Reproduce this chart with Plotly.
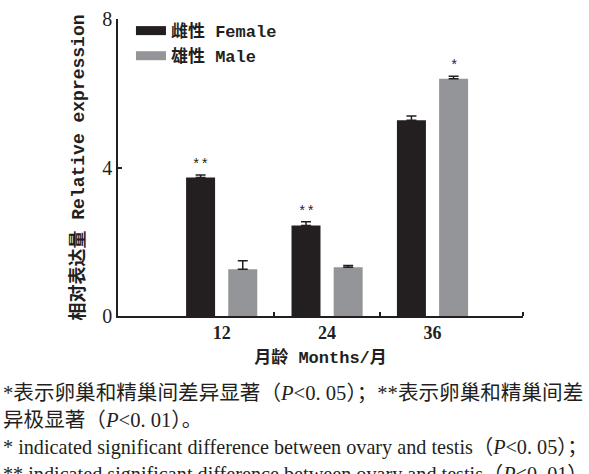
import plotly.graph_objects as go

months = [12, 24, 36]
female = [3.73, 2.44, 5.27]
female_err = [0.07, 0.10, 0.12]
male = [1.26, 1.31, 6.39]
male_err = [0.23, 0.05, 0.07]
female_sig = ["**", "**", ""]
male_sig = ["", "", "*"]
y_ticks = [0, 4, 8]

BAR_W = 3.3
F_OFF = -4.05
M_OFF = 0.75
F_COLOR = "#231f20"
M_COLOR = "#939598"

MONO = "Liberation Mono, Noto Sans CJK SC"
SERIF = "Liberation Serif, Noto Sans CJK SC"

fig = go.Figure()
fig.add_trace(go.Bar(
    x=months, y=female, width=BAR_W, offset=F_OFF, marker_color=F_COLOR,
    marker_line_width=0, showlegend=False,
    error_y=dict(type="data", array=female_err, arrayminus=[0]*3, symmetric=False,
                 color="#231f20", thickness=1.5, width=5),
))
fig.add_trace(go.Bar(
    x=months, y=male, width=BAR_W, offset=M_OFF, marker_color=M_COLOR,
    marker_line_width=0, showlegend=False,
    error_y=dict(type="data", array=male_err, arrayminus=[0]*3, symmetric=False,
                 color="#231f20", thickness=1.5, width=5),
))
# legend entries
fig.add_trace(go.Scatter(x=[None], y=[None], mode="lines", line=dict(color=F_COLOR, width=9),
                         name="<b>雌性 Female</b>"))
fig.add_trace(go.Scatter(x=[None], y=[None], mode="lines", line=dict(color=M_COLOR, width=9),
                         name="<b>雄性 Male</b>"))

for m, v, e, s in zip(months, female, female_err, female_sig):
    if s:
        fig.add_annotation(x=m + F_OFF + BAR_W / 2, y=v + e, text=s, showarrow=False,
                           yanchor="bottom", yshift=0, font=dict(family=MONO, size=14, color="#231f20"))
for m, v, e, s in zip(months, male, male_err, male_sig):
    if s:
        fig.add_annotation(x=m + M_OFF + BAR_W / 2, y=v + e, text=s, showarrow=False,
                           yanchor="bottom", yshift=0, font=dict(family=MONO, size=14, color="#231f20"))

captions = [
    "*表示卵巢和精巢间差异显著（<i>P</i><0. 05）；**表示卵巢和精巢间差",
    "异极显著（<i>P</i><0. 01）。",
    "* indicated significant difference between ovary and testis（<i>P</i><0. 05）；",
    "** indicated significant difference between ovary and testis（<i>P</i><0. 01）.",
]
cap_size = [20.6, 20.6, 20.2, 20.2]
cap_y = [393, 420, 447, 474]
for t, py, fs in zip(captions, cap_y, cap_size):
    fig.add_annotation(xref="paper", yref="paper", x=(1 - 118) / 405, y=(316 - py) / 297,
                       xanchor="left", yanchor="middle", text=t, showarrow=False,
                       font=dict(family=SERIF, size=fs, color="#231f20"))

fig.update_layout(
    width=589, height=474,
    margin=dict(l=118, r=66, t=19, b=158, autoexpand=False),
    paper_bgcolor="white", plot_bgcolor="white",
    font=dict(color="#231f20"),
    legend=dict(x=0.032, y=1.02, xanchor="left", yanchor="top", bgcolor="rgba(0,0,0,0)",
                font=dict(family=MONO, size=17, color="#231f20"), tracegroupgap=0),
    xaxis=dict(
        range=[0.2, 46.3], tickvals=months, ticktext=["<b>%d</b>" % m for m in months],
        ticks="", showgrid=False, zeroline=False, showline=True, linecolor="#231f20", linewidth=1.5,
        tickfont=dict(family=SERIF, size=18, color="#231f20"), automargin=False,
        minor=dict(tickvals=[18, 30, 46.3], ticks="inside", ticklen=4, tickwidth=1.5, tickcolor="#231f20"),
        title=dict(text="<b>月龄 Months/月</b>", font=dict(family=MONO, size=17, color="#231f20"), standoff=9),
    ),
    yaxis=dict(
        range=[0, 8], tickvals=y_ticks, ticks="inside", ticklen=4, tickwidth=1.5, tickcolor="#231f20",
        showgrid=False, zeroline=False, showline=True, linecolor="#231f20", linewidth=1.5,
        tickfont=dict(family=SERIF, size=20, color="#231f20"), automargin=False,
        title=dict(text="<b>相对表达量 Relative expression</b>", font=dict(family=MONO, size=18, color="#231f20"), standoff=13),
    ),
)

fig.write_html("out.html", config={"displayModeBar": False},
               post_script="document.body.style.margin='0';document.body.style.padding='0';")
